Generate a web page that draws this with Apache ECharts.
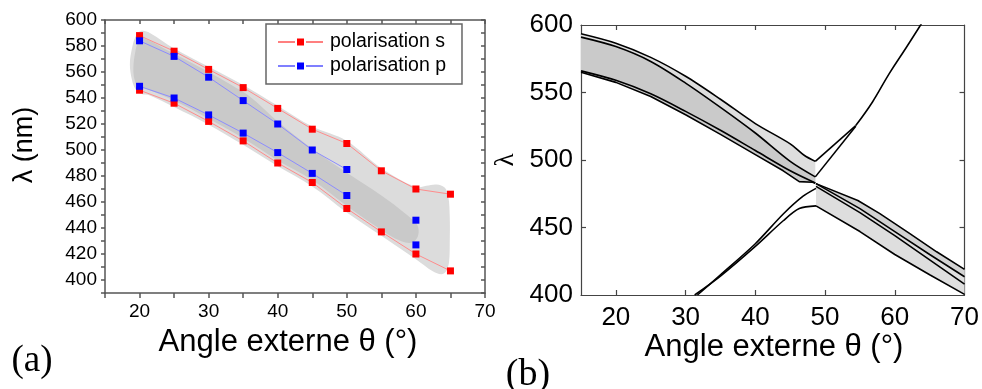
<!DOCTYPE html>
<html><head><meta charset="utf-8">
<script src="https://cdn.jsdelivr.net/npm/echarts@6/dist/echarts.min.js"></script>
<style>html,body{margin:0;padding:0;background:#fff}#c{width:982px;height:389px}</style>
</head><body><div id="c"></div>
<script>
// ---------- Panel (a) data ----------
const thetaA = [20,25,30,35,40,45,50,55,60,65];
const sUpper = [588,576,562,548,532,516,505,484,470,466];
const sLower = [546,536,522,507,490,475,455,437,420,407];
const thetaP = [20,25,30,35,40,45,50,55,60];
const pUpper = [584,572,556,538,520,500,485,null,446];
const pLower = [549,540,527,513,498,482,465,null,427];
const xTicksA = [20,30,40,50,60,70];
const yTicksA = [400,420,440,460,480,500,520,540,560,580,600];
// shaded regions of panel (a) (angle, wavelength)
const blobOuter = [[18.6,566],[18.9,578],[19.4,587],[20.2,591.5],[21.5,590],[25,578],[30,564],[35,550],[40,534],[45,518],[50,507],[55,486],[60,471.5],[61.5,472.5],[63,473.5],[64.2,471],[64.7,464],[64.9,448],[64.9,430],[64.8,414],[64.4,407],[63.7,404.5],[62.5,406.5],[60,416],[55,434],[50,452],[45,472],[40,487.5],[35,504],[30,519.5],[25,533],[21.5,542],[20.3,543],[19.4,547],[18.9,554]];
const blobInner = [[19.1,562],[19.4,576],[19.9,584],[20.6,586],[25,574],[30,560],[33,551],[36,541],[40,522],[45,501],[50,482.5],[55,465],[58.5,451],[60.1,443],[60.4,437],[60,431],[59,428.5],[57,432],[55,438.5],[50,457],[45,477],[40,492],[35,509],[30,524],[25,538],[21,547],[20,548],[19.4,552]];

// ---------- Panel (b) data ----------
const curveA1 = [[15,593.5],[20,586.5],[25,576],[30,562],[35,545],[40,527],[45,512],[47,503.5],[48.6,499]];
const curveA2 = [[15,591],[20,584],[25,573],[30,557],[35,539],[40,520],[45,499],[48.6,487.5]];
const curveA3b = [[15,566],[20,559],[25,549],[30,536],[35,522],[40,507],[45,492],[48.6,483]];
const curveA3 = [[15,565],[20,557.5],[25,547],[30,533.5],[35,519],[40,504],[44,492],[46.3,484],[48.2,483.5],[48.6,482.7]];
const curveB1 = [[48.6,499],[54.4,525.5]];
const curveB2 = [[48.6,487.5],[54.4,525]];
const curveB3 = [[54.4,525.5],[56.8,543],[59.2,564],[61.6,583],[63.7,600],[64,602.5]];
const curveC1 = [[48.7,482.5],[54.7,470],[57.8,460.5],[62,446],[66,432],[70,419]];
const curveC2 = [[48.7,482.5],[55,464],[60,447],[65,430],[70,413.5]];
const curveC3 = [[48.7,480.5],[55,461],[60,444],[65,426],[70,408]];
const curveC4 = [[48.7,466],[55,447],[60,430],[65,415],[70,400.5]];
const curveD1 = [[31.3,400],[35,414],[40,436],[44,455],[46.3,464],[48.7,466]];
const curveD2 = [[31.7,400],[35,415],[40,438],[44,460],[46.8,473],[48.7,479]];
const xTicksB = [20,30,40,50,60,70];
const yTicksB = [400,450,500,550,600];

const SANS = 'Liberation Sans, Arial, sans-serif';
const SERIF = 'Liberation Serif, Times New Roman, serif';

const chart = echarts.init(document.getElementById('c'), null, {renderer:'canvas'});

function poly(xi, yi, pts, fill, smooth, z) {
  return {
    type:'custom', xAxisIndex:xi, yAxisIndex:yi, silent:true, z:z,
    data:[[pts[0][0], pts[0][1]]],
    renderItem:(params, api) => ({
      type:'polygon',
      shape:{points: pts.map(p => api.coord(p)), smooth: smooth || 0},
      style:{fill: fill, stroke: null}
    })
  };
}
function bLine(pts, smooth) {
  return {type:'line', xAxisIndex:2, yAxisIndex:2, data:pts, showSymbol:false, silent:true,
    smooth: smooth || false,
    lineStyle:{color:'#000', width:1.6}, z:5, animation:false};
}
const pair = (xs, ys) => xs.map((x,i) => [x, ys[i] == null ? '-' : ys[i]]);

const frameA = {color:'#555', width:1.5};
const frameB = {color:'#444', width:1.2};
const legendIcon = 'path://M0,3.6h17v0.8h-17z M19,0.5h7v7h-7z M28,3.6h17v0.8h-17z';

const option = {
  animation:false,
  backgroundColor:'#fff',
  grid:[
    {left:105, top:20, width:380, height:273},
    {left:581, top:25, width:384, height:270}
  ],
  legend:{
    data:['polarisation s','polarisation p'],
    orient:'vertical', left:266, top:24,
    padding:[8,16,8,12], itemGap:4, itemWidth:45, itemHeight:8,
    icon: legendIcon,
    borderColor:'#666', borderWidth:1.5, backgroundColor:'#fff',
    textStyle:{fontSize:19.5, fontFamily:SANS, color:'#000', padding:[0,0,0,2]}
  },
  xAxis:[
    {gridIndex:0, type:'value', min:15, max:70, interval:5, position:'bottom',
     axisLine:{lineStyle:frameA}, splitLine:{show:false},
     axisTick:{inside:false, length:5, lineStyle:frameA},
     axisLabel:{customValues:xTicksA, fontSize:19, fontFamily:SANS, color:'#000', margin:9}},
    {gridIndex:0, type:'value', min:15, max:70, interval:5, position:'top',
     axisLine:{lineStyle:frameA}, splitLine:{show:false},
     axisTick:{inside:true, length:4, lineStyle:frameA}, axisLabel:{show:false}},
    {gridIndex:1, type:'value', min:15, max:70, interval:5, position:'bottom',
     axisLine:{lineStyle:frameB}, splitLine:{show:false},
     axisTick:{inside:true, length:5, customValues:[20,30,40,50,60], lineStyle:frameB},
     axisLabel:{customValues:xTicksB, fontSize:26, fontFamily:SANS, color:'#000', margin:10}},
    {gridIndex:1, type:'value', min:15, max:70, interval:5, position:'top',
     axisLine:{lineStyle:frameB}, splitLine:{show:false},
     axisTick:{inside:true, length:5, customValues:[20,30,40,50,60], lineStyle:frameB}, axisLabel:{show:false}}
  ],
  yAxis:[
    {gridIndex:0, type:'value', min:390, max:600, interval:10, position:'left',
     axisLine:{show:true, lineStyle:frameA}, splitLine:{show:false},
     axisTick:{show:true, inside:false, length:4, lineStyle:frameA},
     axisLabel:{customValues:yTicksA, fontSize:19, fontFamily:SANS, color:'#000', margin:8}},
    {gridIndex:0, type:'value', min:390, max:600, interval:10, position:'right',
     axisLine:{show:true, lineStyle:frameA}, splitLine:{show:false},
     axisTick:{show:true, inside:true, length:4, lineStyle:frameA}, axisLabel:{show:false}},
    {gridIndex:1, type:'value', min:400, max:600, interval:50, position:'left',
     axisLine:{show:true, lineStyle:frameB}, splitLine:{show:false},
     axisTick:{show:true, inside:true, length:5, customValues:[450,500,550], lineStyle:frameB},
     axisLabel:{customValues:yTicksB, fontSize:26, fontFamily:SANS, color:'#000', margin:8}},
    {gridIndex:1, type:'value', min:400, max:600, interval:50, position:'right',
     axisLine:{show:true, lineStyle:frameB}, splitLine:{show:false},
     axisTick:{show:true, inside:true, length:5, customValues:[450,500,550], lineStyle:frameB}, axisLabel:{show:false}}
  ],
  graphic:[
    {type:'text', x:288, y:342, style:{text:'Angle externe θ (°)', fontSize:31, fontFamily:SANS, fill:'#000', align:'center', verticalAlign:'middle', textAlign:'center', textVerticalAlign:'middle'}},
    {type:'text', x:25, y:145, rotation:Math.PI/2, style:{text:'λ (nm)', fontSize:27, fontFamily:SANS, fill:'#000', align:'center', verticalAlign:'middle', textAlign:'center', textVerticalAlign:'middle'}},
    {type:'text', x:32, y:361, style:{text:'(a)', fontSize:37, fontFamily:SERIF, fill:'#000', align:'center', verticalAlign:'middle', textAlign:'center', textVerticalAlign:'middle'}},
    {type:'text', x:774, y:347, style:{text:'Angle externe θ (°)', fontSize:31, fontFamily:SANS, fill:'#000', align:'center', verticalAlign:'middle', textAlign:'center', textVerticalAlign:'middle'}},
    {type:'text', x:506, y:160, rotation:Math.PI/2, style:{text:'λ', fontSize:27, fontFamily:SERIF, fill:'#000', align:'center', verticalAlign:'middle', textAlign:'center', textVerticalAlign:'middle'}},
    {type:'text', x:528, y:375, style:{text:'(b)', fontSize:38, fontFamily:SERIF, fill:'#000', align:'center', verticalAlign:'middle', textAlign:'center', textVerticalAlign:'middle'}}
  ],
  series:[
    poly(0,0, blobOuter, '#dcdcdc', 0.35, 1),
    poly(0,0, blobInner, '#c9c9c9', 0.35, 2),
    {name:'polarisation s', type:'line', xAxisIndex:0, yAxisIndex:0, data:pair(thetaA, sUpper),
     symbol:'rect', symbolSize:7, itemStyle:{color:'#ff0000'}, lineStyle:{color:'#ff8c8c', width:1}, z:5},
    {name:'polarisation s', type:'line', xAxisIndex:0, yAxisIndex:0, data:pair(thetaA, sLower),
     symbol:'rect', symbolSize:7, itemStyle:{color:'#ff0000'}, lineStyle:{color:'#ff8c8c', width:1}, z:5},
    {name:'polarisation p', type:'line', xAxisIndex:0, yAxisIndex:0, data:pair(thetaP, pUpper),
     symbol:'rect', symbolSize:7, itemStyle:{color:'#0000ff'}, lineStyle:{color:'#8c8cff', width:1}, connectNulls:false, z:6},
    {name:'polarisation p', type:'line', xAxisIndex:0, yAxisIndex:0, data:pair(thetaP, pLower),
     symbol:'rect', symbolSize:7, itemStyle:{color:'#0000ff'}, lineStyle:{color:'#8c8cff', width:1}, connectNulls:false, z:6},
    // panel (b)
    poly(2,2, curveA1.concat([[48.6,482.7]], curveA3.slice().reverse()), '#dedede', 0, 1),
    poly(2,2, curveA2.concat(curveA3.slice().reverse()), '#cacaca', 0, 2),
    poly(2,2, curveC1.concat(curveC4.slice().reverse()), '#dedede', 0, 1),
    poly(2,2, curveC1.concat(curveC2.slice().reverse()), '#d2d2d2', 0, 2),
    bLine(curveA1, 0.3), bLine(curveA2, 0.3), bLine(curveA3b, 0.3), bLine(curveA3),
    bLine(curveB1), bLine(curveB2), bLine(curveB3, 0.4),
    bLine(curveC1), bLine(curveC2), bLine(curveC3), bLine(curveC4),
    bLine(curveD1, 0.3), bLine(curveD2, 0.3)
  ]
};
chart.setOption(option);
</script>
</body></html>
